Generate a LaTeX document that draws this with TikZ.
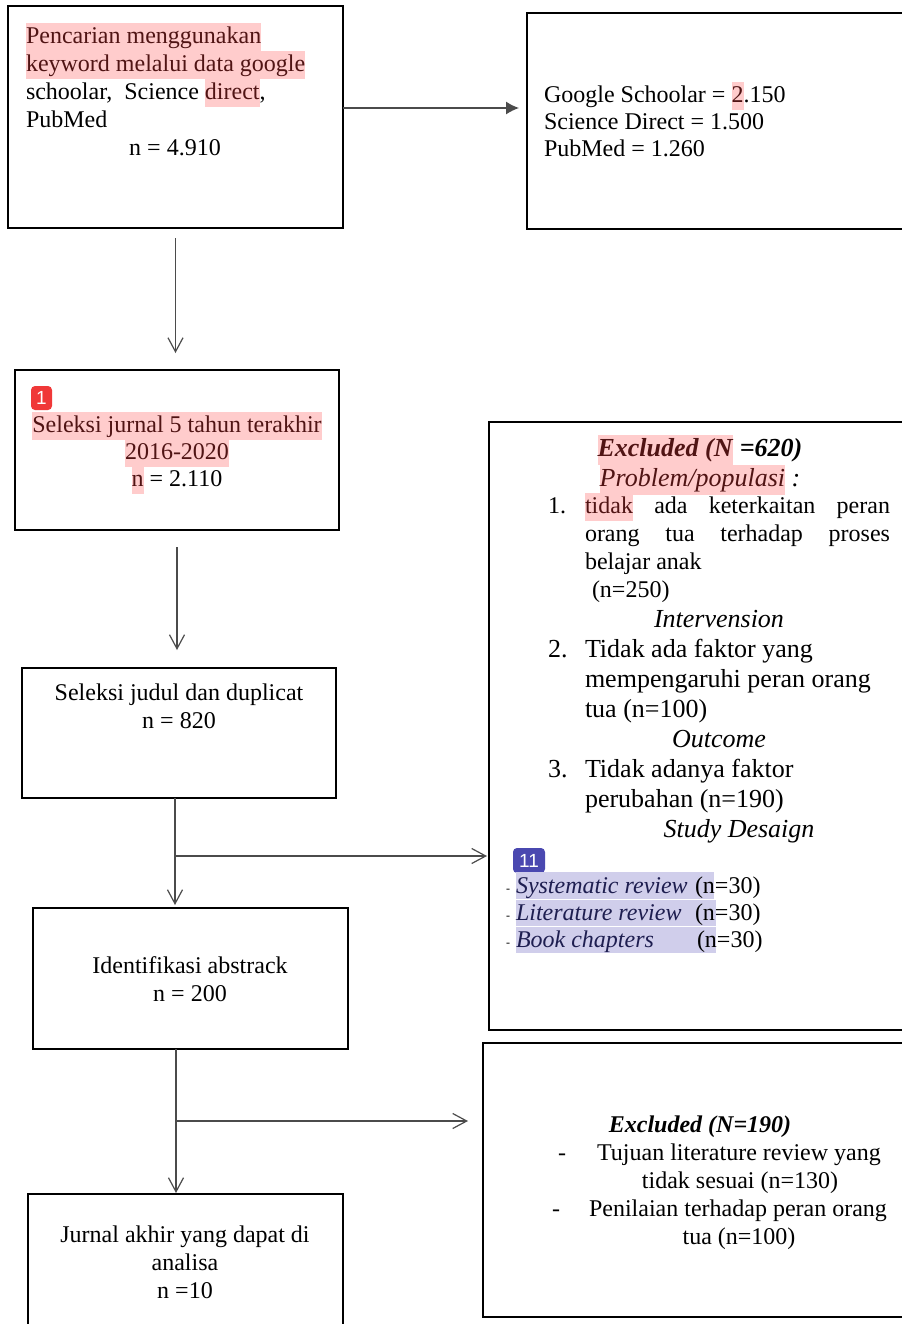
\documentclass[tikz,border=0pt]{standalone}
\usepackage{fontspec}
\setmainfont{Liberation Serif}
\setsansfont{Liberation Sans}
\usetikzlibrary{arrows.meta,fit,calc}
\definecolor{hlpink}{RGB}{255,204,204}
\definecolor{hltext}{RGB}{80,20,20}
\definecolor{hlblue}{RGB}{208,206,235}
\definecolor{bluetext}{RGB}{30,30,80}
\definecolor{badgered}{RGB}{240,56,56}
\definecolor{badgeblue}{RGB}{74,72,176}
\definecolor{arrowgray}{RGB}{75,75,75}
\newcommand{\hlp}[1]{{\setlength{\fboxsep}{0pt}\colorbox{hlpink}{\color{hltext}\strut#1}}}
\begin{document}
\begin{tikzpicture}[x=0.5pt,y=-0.5pt,
  box/.style={draw, line width=1.1pt, inner sep=0pt, outer sep=0pt},
  txt/.style={inner sep=0pt, outer sep=0pt, anchor=base west, font=\fontsize{12}{14}\selectfont},
  ctxt/.style={txt, anchor=base},
  big/.style={font=\fontsize{13}{15}\selectfont},
  conn/.style={draw=arrowgray, line width=0.6pt},
  openarrow/.style={conn, -{Straight Barb[length=7pt,width=7.5pt]}},
  fillarrow/.style={conn, -{Latex[length=6.5pt,width=6.5pt]}},
  badge/.style={rounded corners=2pt, inner sep=0pt, outer sep=0pt, anchor=north west, text=white, font=\fontsize{9.5}{9.5}\sffamily}
]
\useasboundingbox (0,0) rectangle (901,1324);

% boxes
\node[box, fit={(8,6) (343,228)}] (b1) {};
\node[box, fit={(527,13) (912,229)}] (b2) {};
\node[box, fit={(15,370) (339,530)}] (b3) {};
\node[box, fit={(22,668) (336,798)}] (b4) {};
\node[box, fit={(33,908) (348,1049)}] (b5) {};
\node[box, fit={(28,1194) (343,1345)}] (b6) {};
\node[box, fit={(489,422) (912,1030)}] (b7) {};
\node[box, fit={(483,1043) (912,1317)}] (b8) {};

% box 1 text
\node[txt] (t1a) at (26,43) {\hlp{Pencarian menggunakan}};
\node[txt] (t1b) at (26,71) {\hlp{keyword melalui data google}};
\node[txt] (t1c) at (26,99) {schoolar,\ \ Science \hlp{direct},};
\node[txt] (t1d) at (26,127) {PubMed};
\node[ctxt] (t1e) at (175,155) {n = 4.910};

% box 2 text
\node[txt] (t2a) at (544,102) {Google Schoolar = \hlp{2}.150};
\node[txt] (t2b) at (544,129) {Science Direct = 1.500};
\node[txt] (t2c) at (544,156) {PubMed = 1.260};

% box 3 text
\node[ctxt] (t3a) at (177,432) {\hlp{Seleksi jurnal 5 tahun terakhir}};
\node[ctxt] (t3b) at (177,459) {\hlp{2016-2020}};
\node[ctxt] (t3c) at (177,486) {\hlp{n} = 2.110};
\node[badge, fill=badgered, minimum width=10.5pt, minimum height=12pt] (bd1) at (31,386) {1};

% box 4 text
\node[ctxt] (t4a) at (179,700) {Seleksi judul dan duplicat};
\node[ctxt] (t4b) at (179,728) {n = 820};

% box 5 text
\node[ctxt] (t5a) at (190,973) {Identifikasi abstrack};
\node[ctxt] (t5b) at (190,1001) {n = 200};

% box 6 text
\node[ctxt] (t6a) at (185,1242) {Jurnal akhir yang dapat di};
\node[ctxt] (t6b) at (185,1270) {analisa};
\node[ctxt] (t6c) at (185,1298) {n =10};

% box 7 text
\node[ctxt,big] (e1) at (700,456) {\hlp{\textbf{\textit{Excluded (N}}}\textbf{\textit{ =620)}}};
\node[ctxt,big] (e2) at (700,486) {\hlp{\textit{Problem/populasi}}\textit{ :}};
\node[txt] (n1) at (548,513) {1.};
\node[txt] (i1a) at (585,513) {\makebox[152.5pt][s]{\hlp{tidak} ada keterkaitan peran}};
\node[txt] (i1b) at (585,541) {\makebox[152.5pt][s]{orang tua terhadap proses}};
\node[txt] (i1c) at (585,569) {belajar anak};
\node[txt] (i1d) at (592,597) {(n=250)};
\node[ctxt,big] (h2) at (719,627) {\textit{Intervension}};
\node[txt,big] (n2) at (548,657) {2.};
\node[txt,big] (i2a) at (585,657) {Tidak ada faktor yang};
\node[txt,big] (i2b) at (585,687) {mempengaruhi peran orang};
\node[txt,big] (i2c) at (585,717) {tua (n=100)};
\node[ctxt,big] (h3) at (719,747) {\textit{Outcome}};
\node[txt,big] (n3) at (548,777) {3.};
\node[txt,big] (i3a) at (585,777) {Tidak adanya faktor};
\node[txt,big] (i3b) at (585,807) {perubahan (n=190)};
\node[ctxt,big] (h4) at (739,837) {\textit{Study Desaign}};
\node[badge, fill=badgeblue, minimum width=16pt, minimum height=12.5pt] (bd2) at (513,848) {11};

\fill[hlblue] (516,872) rectangle (714,899);
\fill[hlblue] (516,900) rectangle (716,926);
\fill[hlblue] (516,927) rectangle (716,953);
\node[txt, font=\fontsize{6}{6}\selectfont] (d1) at (506,892) {-};
\node[txt, font=\fontsize{6}{6}\selectfont] (d2) at (506,919) {-};
\node[txt, font=\fontsize{6}{6}\selectfont] (d3) at (506,946) {-};
\node[txt] (s1) at (516,893) {\color{bluetext}\textit{Systematic review}};
\node[txt] (s1n) at (695,893) {(n=30)};
\node[txt] (s2) at (516,920) {\color{bluetext}\textit{Literature review}};
\node[txt] (s2n) at (695,920) {(n=30)};
\node[txt] (s3) at (516,947) {\color{bluetext}\textit{Book chapters}};
\node[txt] (s3n) at (697,947) {(n=30)};

% box 8 text
\node[ctxt] (x1) at (700,1132) {\textbf{\textit{Excluded (N=190)}}};
\node[txt] (x2d) at (558,1160) {-};
\node[ctxt] (x2) at (739,1160) {Tujuan literature review yang};
\node[ctxt] (x3) at (740,1188) {tidak sesuai (n=130)};
\node[txt] (x4d) at (552,1216) {-};
\node[ctxt] (x4) at (738,1216) {Penilaian terhadap peran orang};
\node[ctxt] (x5) at (739,1244) {tua (n=100)};

% connectors
\draw[fillarrow, shorten >=4pt] ([yshift=4.5pt]b1.east) -- ([yshift=4.5pt]b1.east -| b2.west);
\draw[openarrow, shorten <=5pt, shorten >=8.5pt] (b1.south) -- (b1.south |- b3.north);
\draw[openarrow, shorten <=8.5pt, shorten >=9pt] (b3.south) -- (b3.south |- b4.north);
\coordinate (s4) at ($(b4.south)+(-4,0)$);
\draw[openarrow, shorten >=1.5pt] (s4) -- (s4 |- b5.north);
\coordinate (j1) at ($(s4)+(0,58)$);
\draw[openarrow, shorten >=1pt] (j1) -- (j1 -| b7.west);
\coordinate (s5) at ($(b5.south)+(-14.5,0)$);
\draw[openarrow, shorten >=0.5pt] (s5) -- (s5 |- b6.north);
\coordinate (j2) at ($(s5)+(0,72)$);
\draw[openarrow, shorten >=7.5pt] (j2) -- (j2 -| b8.west);
\end{tikzpicture}
\end{document}
